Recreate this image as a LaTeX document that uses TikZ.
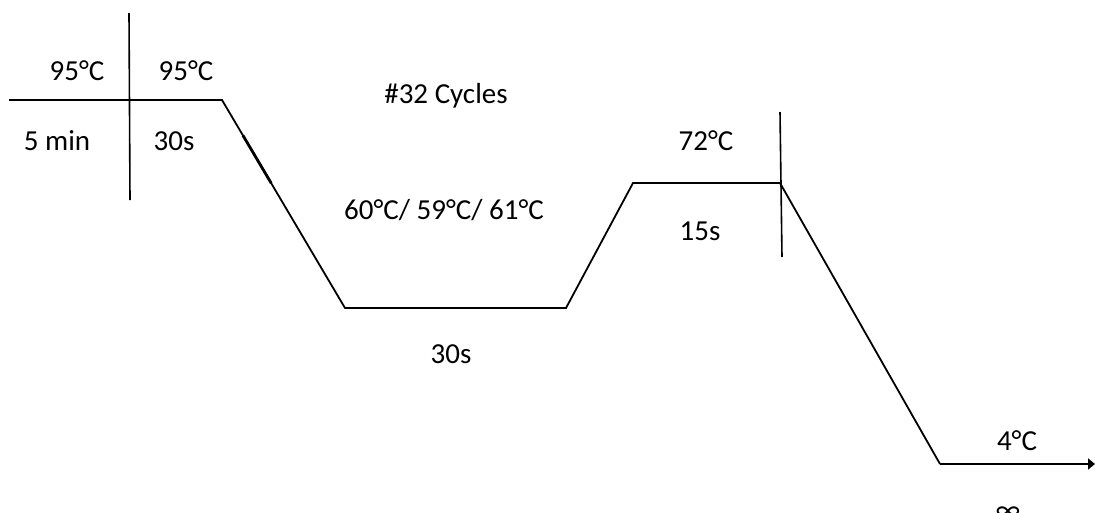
\documentclass[tikz,border=0pt]{standalone}
\usepackage{fontspec}
\setmainfont{Carlito}
\usetikzlibrary{arrows.meta,calc}
\begin{document}
\begin{tikzpicture}[x=1pt,y=-1pt,
  profile/.style={line width=1.8pt,line join=miter},
  marker/.style={line width=1.6pt},
  lbl/.style={font=\fontsize{29}{31}\selectfont,inner sep=0pt,anchor=base}]
\useasboundingbox (0,0) rectangle (1095,512);
% temperature profile corners
\coordinate (start) at (9,100);
\coordinate (d1) at (222,100);
\coordinate (anneal1) at (345,308);
\coordinate (anneal2) at (566,308);
\coordinate (ext1) at (633,183);
\coordinate (ext2) at (780,183);
\coordinate (hold) at (940,464);
\coordinate (hold2) at (1095,464);
% cycle markers
\coordinate (m1top) at (129,13);
\coordinate (m1bot) at (130,200);
\coordinate (m2top) at (780,112);
\coordinate (m2bot) at (782,257);
\draw[profile] (start) -- (d1) -- (anneal1) -- (anneal2) -- (ext1) -- (ext2) -- (hold);
\draw[profile,-{Triangle[length=7pt,width=11pt]}] (hold) -- (hold2);
\draw[marker] (m1top) -- (m1bot);
\draw[marker] (m2top) -- (m2bot);
% slightly heavier strokes on the first ramp and the initial hold
\draw[line width=2.8pt] ($(d1)!0.17!(anneal1)$) -- ($(d1)!0.4!(anneal1)$);
\draw[line width=2.6pt] (34,100) -- (43,100);
% labels
\node[lbl] (t1) at (77,80) {95°C};
\node[lbl] (t2) at (186,80) {95°C};
\node[lbl] (s1) at (57,150) {5 min};
\node[lbl] (s2) at (174,150) {30s};
\node[lbl] (cyc) at (446,103) {\#32 Cycles};
\node[lbl] (ta) at (444,219) {60°C/ 59°C/ 61°C};
\node[lbl] (sa) at (451,363) {30s};
\node[lbl] (te) at (706,150) {72°C};
\node[lbl] (se) at (700,240) {15s};
\node[lbl] (th) at (1017,450) {4°C};
\node[lbl] (sh) at (1008,519) {∞};
\end{tikzpicture}
\end{document}
